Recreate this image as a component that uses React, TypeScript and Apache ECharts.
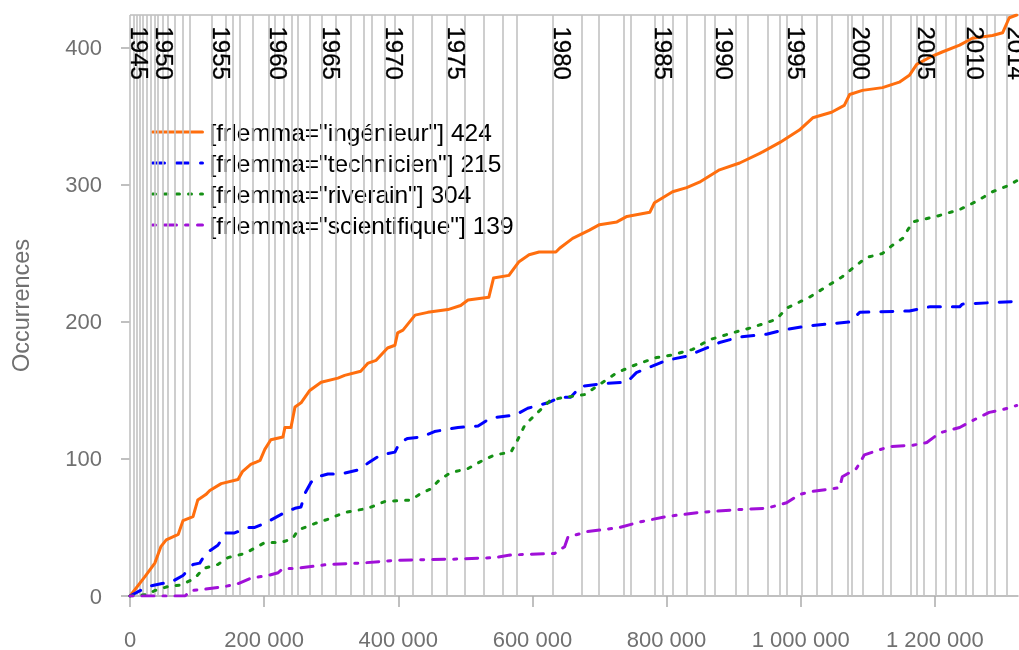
import React, { useEffect, useRef } from 'react';
import * as echarts from 'echarts';

const FONT = '"Liberation Sans", Arial, Helvetica, sans-serif';

const xTicks = [0, 200000, 400000, 600000, 800000, 1000000, 1200000];
const yTicks = [0, 100, 200, 300, 400];
const xMax = 1324000;
const yMax = 424;

const seriesNames = [
  '[frlemma="ingénieur"] 424',
  '[frlemma="technicien"] 215',
  '[frlemma="riverain"] 304',
  '[frlemma="scientifique"] 139',
];

const ingenieur: [number, number][] = [
  [0, 0], [22000, 14], [37000, 24], [46000, 36], [54000, 41], [72000, 45], [79000, 55], [94000, 58],
  [101000, 70], [113000, 74], [119000, 77], [136000, 82], [161000, 85], [168000, 91], [180000, 96],
  [194000, 99], [201000, 107], [210000, 114], [228000, 116], [231000, 123], [240000, 123], [246000, 138],
  [255000, 141], [268000, 150], [285000, 156], [310000, 159], [320000, 161], [344000, 164], [355000, 170],
  [367000, 172], [384000, 181], [395000, 183], [399000, 192], [407000, 194], [425000, 205], [444000, 207],
  [474000, 209], [493000, 212], [504000, 216], [535000, 218], [542000, 232], [565000, 234], [580000, 244],
  [595000, 249], [610000, 251], [635000, 251], [641000, 254], [660000, 261], [685000, 267], [700000, 271],
  [726000, 273], [741000, 277], [775000, 280], [782000, 287], [809000, 295], [830000, 298], [849000, 302],
  [879000, 311], [909000, 316], [939000, 323], [969000, 331], [998000, 340], [1018000, 349], [1046000, 353],
  [1065000, 358], [1073000, 366], [1092000, 369], [1122000, 371], [1147000, 375], [1162000, 380],
  [1173000, 388], [1192000, 393], [1211000, 397], [1237000, 402], [1256000, 407], [1286000, 409],
  [1301000, 411], [1311000, 422], [1322000, 424],
];

const technicien: [number, number][] = [
  [0, 0], [27000, 7], [46000, 9], [61000, 10], [79000, 15], [94000, 23], [104000, 24], [113000, 31],
  [131000, 37], [143000, 46], [156000, 46], [176000, 50], [186000, 50], [201000, 53], [216000, 57],
  [231000, 61], [246000, 64], [255000, 65], [261000, 75], [270000, 83], [280000, 87], [295000, 89],
  [314000, 89], [340000, 92], [355000, 97], [374000, 103], [395000, 105], [402000, 112], [414000, 115],
  [434000, 116], [454000, 120], [489000, 123], [519000, 124], [538000, 130], [574000, 132], [593000, 137],
  [623000, 141], [641000, 145], [657000, 145], [672000, 153], [705000, 155], [741000, 156], [755000, 163],
  [775000, 167], [800000, 172], [830000, 175], [860000, 181], [879000, 185], [909000, 189], [949000, 191],
  [973000, 194], [1009000, 197], [1073000, 200], [1088000, 207], [1162000, 208], [1192000, 211],
  [1237000, 211], [1241000, 213], [1322000, 215],
];

const riverain: [number, number][] = [
  [0, 0], [27000, 1], [37000, 4], [57000, 7], [76000, 8], [97000, 13], [109000, 20], [131000, 23],
  [146000, 28], [171000, 31], [186000, 35], [201000, 39], [225000, 39], [243000, 42], [250000, 48],
  [276000, 53], [295000, 56], [320000, 61], [355000, 64], [380000, 69], [419000, 70], [434000, 75],
  [448000, 78], [462000, 85], [478000, 90], [504000, 93], [526000, 99], [544000, 103], [568000, 105],
  [578000, 114], [589000, 125], [608000, 134], [627000, 143], [648000, 145], [678000, 147], [696000, 153],
  [726000, 163], [755000, 169], [785000, 174], [809000, 176], [839000, 180], [864000, 187], [898000, 192],
  [928000, 196], [964000, 202], [979000, 210], [1013000, 218], [1039000, 226], [1062000, 233],
  [1077000, 239], [1098000, 247], [1122000, 250], [1137000, 256], [1152000, 261], [1167000, 273],
  [1202000, 277], [1237000, 282], [1262000, 288], [1286000, 295], [1307000, 299], [1322000, 303],
];

const scientifique: [number, number][] = [
  [0, 0], [31000, 0], [82000, 0], [91000, 4], [112000, 5], [142000, 7], [161000, 9], [180000, 13],
  [206000, 15], [221000, 17], [228000, 20], [246000, 20], [295000, 23], [344000, 24], [395000, 26],
  [493000, 27], [544000, 28], [568000, 30], [633000, 31], [648000, 36], [653000, 43], [682000, 47],
  [730000, 50], [760000, 54], [800000, 58], [849000, 61], [904000, 63], [949000, 64], [979000, 68],
  [998000, 74], [1013000, 76], [1058000, 79], [1062000, 87], [1083000, 93], [1095000, 103],
  [1132000, 109], [1167000, 110], [1188000, 112], [1207000, 119], [1237000, 123], [1256000, 128],
  [1281000, 134], [1301000, 136], [1322000, 139],
];

const partBounds = [
  0, 6000, 10000, 15000, 19000, 25000, 31000, 37000, 42000, 49000, 57000, 67000, 79000, 89000,
  122000, 143000, 153000, 164000, 183000, 207000, 216000, 229000, 241000, 250000, 268000, 286000,
  307000, 329000, 349000, 361000, 380000, 395000, 422000, 450000, 472000, 499000, 527000, 556000,
  577000, 630000, 673000, 699000, 736000, 746000, 782000, 794000, 809000, 830000, 857000, 872000,
  903000, 921000, 951000, 969000, 979000, 1001000, 1024000, 1046000, 1070000, 1076000, 1092000,
  1123000, 1135000, 1164000, 1173000, 1183000, 1201000, 1217000, 1231000, 1246000, 1256000, 1278000,
  1289000, 1307000,
];

const yearLabels = ['1945', '1950', '1955', '1960', '1965', '1970', '1975', '1980', '1985', '1990', '1995', '2000', '2005', '2010', '2014'];
const yearStarts = [0, 37000, 122000, 207000, 286000, 380000, 472000, 630000, 782000, 872000, 979000, 1076000, 1173000, 1246000, 1307000];

const colors = ['#ff6e0e', '#0000ff', '#159015', '#a010d8'];
const dashes: any[] = ['solid', [12, 12], [3, 9], [3, 9, 12, 9]];
const datasets = [ingenieur, technicien, riverain, scientifique];

const fmt = (n: number) => String(n).replace(/\B(?=(\d{3})+(?!\d))/g, ' ');

export default function App() {
  const ref = useRef<HTMLDivElement>(null);
  useEffect(() => {
    if (!ref.current) return;
    const chart = echarts.init(ref.current, null, { renderer: 'svg' });
    const curveSeries = datasets.map((d, i) => ({
      name: seriesNames[i],
      type: 'line',
      data: d,
      symbol: 'none',
      z: 5,
      silent: true,
      itemStyle: { color: colors[i] },
      lineStyle: { color: colors[i], width: 3, type: dashes[i], cap: 'round', join: 'round' },
    }));
    chart.setOption({
      animation: false,
      textStyle: { fontFamily: FONT },
      grid: { left: 130, right: 1, top: 15, bottom: 54, containLabel: false },
      xAxis: {
        type: 'value',
        min: 0,
        max: xMax,
        splitLine: { show: false },
        axisLine: { show: true, lineStyle: { color: '#ababab', width: 1.5 } },
        axisTick: { show: true, length: 11, customValues: xTicks, lineStyle: { color: '#ababab', width: 1.5 } },
        axisLabel: { customValues: xTicks, formatter: (v: number) => fmt(v), fontSize: 22, color: '#707070', margin: 32, fontFamily: FONT },
      },
      yAxis: {
        type: 'value',
        min: 0,
        max: yMax,
        offset: 7,
        name: 'Occurrences',
        nameLocation: 'middle',
        nameGap: 90,
        nameTextStyle: { fontSize: 23.5, color: '#707070', fontFamily: FONT },
        splitLine: { show: false },
        axisLine: { show: false },
        axisTick: { show: true, length: 9, customValues: yTicks, lineStyle: { color: '#ababab', width: 1.5 } },
        axisLabel: { customValues: yTicks, fontSize: 22, color: '#707070', margin: 21, fontFamily: FONT },
      },
      legend: {
        data: seriesNames,
        orient: 'vertical',
        left: 146,
        top: 114,
        itemWidth: 50,
        itemHeight: 14,
        itemGap: 5,
        selectedMode: false,
        itemStyle: { opacity: 0 },
        lineStyle: { width: 3 },
        textStyle: { fontSize: 24.5, color: '#000', lineHeight: 26, padding: [0, 0, 0, 2], fontFamily: FONT },
      },
      graphic: [
        { type: 'line', shape: { x1: 130, y1: 15, x2: 1019, y2: 15 }, style: { stroke: '#bdbdbd', lineWidth: 1.5 }, silent: true },
      ],
      series: [
        {
          type: 'line',
          data: [],
          silent: true,
          z: 1,
          markLine: {
            silent: true,
            symbol: ['none', 'none'],
            label: { show: false },
            emphasis: { disabled: true },
            lineStyle: { color: '#c2c2c2', width: 1.6, type: 'solid' },
            data: partBounds.map((x) => ({ xAxis: x })),
          },
        },
        {
          type: 'scatter',
          silent: true,
          z: 6,
          symbolSize: 1,
          itemStyle: { color: 'rgba(0,0,0,0)' },
          clip: false,
          data: yearStarts.map((x, i) => ({ name: yearLabels[i], value: [x, yMax] })),
          label: {
            show: true,
            formatter: '{b}',
            rotate: -90,
            position: [-2, 12],
            align: 'left',
            verticalAlign: 'bottom',
            fontSize: 24,
            fontWeight: 'normal',
            color: '#000000',
            opacity: 1,
            textBorderColor: '#000000',
            textBorderWidth: 0.3,
            fontFamily: FONT,
          },
        },
        ...curveSeries,
      ],
    });
    return () => chart.dispose();
  }, []);
  return <div ref={ref} style={{ position: 'fixed', left: 0, top: 0, width: 1019, height: 650 }} />;
}
